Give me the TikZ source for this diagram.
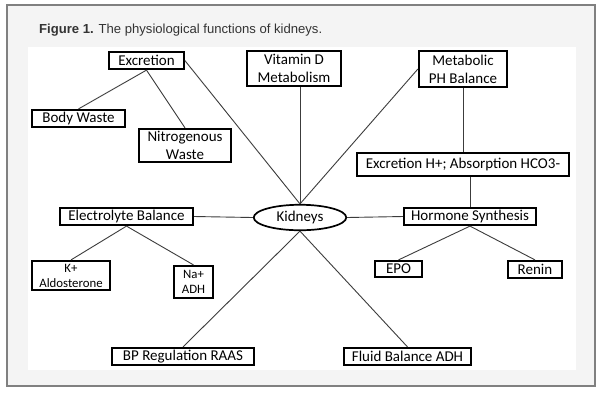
\documentclass[tikz,border=0pt]{standalone}
\usepackage{fontspec}
\setmainfont{Carlito}
\newfontfamily\titlefont{Liberation Sans}
\usetikzlibrary{shapes.geometric}
\definecolor{framegray}{HTML}{808080}
\definecolor{panelgray}{HTML}{F4F4F4}
\definecolor{linegray}{HTML}{3C3C3C}
\definecolor{titlegray}{HTML}{333333}

\begin{document}
\begin{tikzpicture}[x=1pt, y=-1pt,
    box/.style={draw, line width=1.7pt, align=center, inner sep=0pt, font=\fontsize{15}{18}\selectfont},
    smallbox/.style={box, font=\fontsize{12.8}{15}\selectfont},
    link/.style={draw=linegray, line width=0.9pt}]
    \useasboundingbox (0,0) rectangle (601,392);

    % Frame
    \draw[framegray, fill=panelgray, line width=2pt] (7,5) rectangle (595,386);
    \fill[white] (28,47) rectangle (576,370);
    \node[anchor=base west, inner sep=0pt, text=titlegray, font=\titlefont\fontsize{13.1}{15}\selectfont] (title) at (39,33) {\textbf{Figure 1.} The physiological functions of kidneys.};

    % Nodes
    \node[box, minimum width=75, minimum height=17.5] (exc) at (146.5,60.5) {Excretion};
    \node[box, minimum width=94.5, minimum height=35.5] (vitd) at (294,68.5) {Vitamin D\\Metabolism};
    \node[box, minimum width=88.5, minimum height=36.5] (metab) at (463,69) {Metabolic\\PH Balance};
    \node[box, minimum width=93.5, minimum height=17.5] (body) at (78.5,118.5) {Body Waste};
    \node[box, minimum width=92.5, minimum height=33.5] (nitro) at (185,145.5) {Nitrogenous\\Waste};
    \node[box, minimum width=212, minimum height=23.5] (exch) at (463,164.5) {Excretion H+; Absorption HCO3-};
    \node[box, minimum width=133.5, minimum height=17.5] (elec) at (126.5,216.5) {Electrolyte Balance};
    \node[box, ellipse, minimum width=92.5, minimum height=25.5] (kid) at (300,217.5) {Kidneys};
    \node[box, minimum width=132.5, minimum height=17.5] (horm) at (470,216.5) {Hormone Synthesis};
    \node[smallbox, minimum width=78.5, minimum height=29.5] (kal) at (71,275.5) {K+\\Aldosterone};
    \node[smallbox, minimum width=39.5, minimum height=32.5] (nadh) at (193.5,282) {Na+\\ADH};
    \node[box, minimum width=47.5, minimum height=16.5] (epo) at (398.5,269) {EPO};
    \node[box, minimum width=54.5, minimum height=17.5] (renin) at (535,269.5) {Renin};
    \node[box, minimum width=142.5, minimum height=17.5] (bp) at (183,356.5) {BP Regulation RAAS};
    \node[box, minimum width=127.5, minimum height=17.5] (fluid) at (407.5,356.5) {Fluid Balance ADH};

    % Lines
    \draw[link] (exc.south) -- (body.north);
    \draw[link] (exc.south) -- (nitro.north);
    \draw[link] (exc.east) -- (kid.north);
    \draw[link] (vitd.south -| kid.north) -- (kid.north);
    \draw[link] (metab.west) -- (kid.north);
    \draw[link] (metab.south) -- (exch.north);
    \draw[link] (exch.south -| horm.north) -- (horm.north);
    \draw[link] (elec.east) -- (kid.west);
    \draw[link] (kid.east) -- (horm.west);
    \draw[link] (elec.south) -- (kal.north);
    \draw[link] (elec.south) -- (nadh.north);
    \draw[link] (horm.south) -- (epo.north);
    \draw[link] (horm.south) -- (renin.north);
    \draw[link] (kid.south) -- (bp.north);
    \draw[link] (kid.south) -- (fluid.north);
\end{tikzpicture}
\end{document}
